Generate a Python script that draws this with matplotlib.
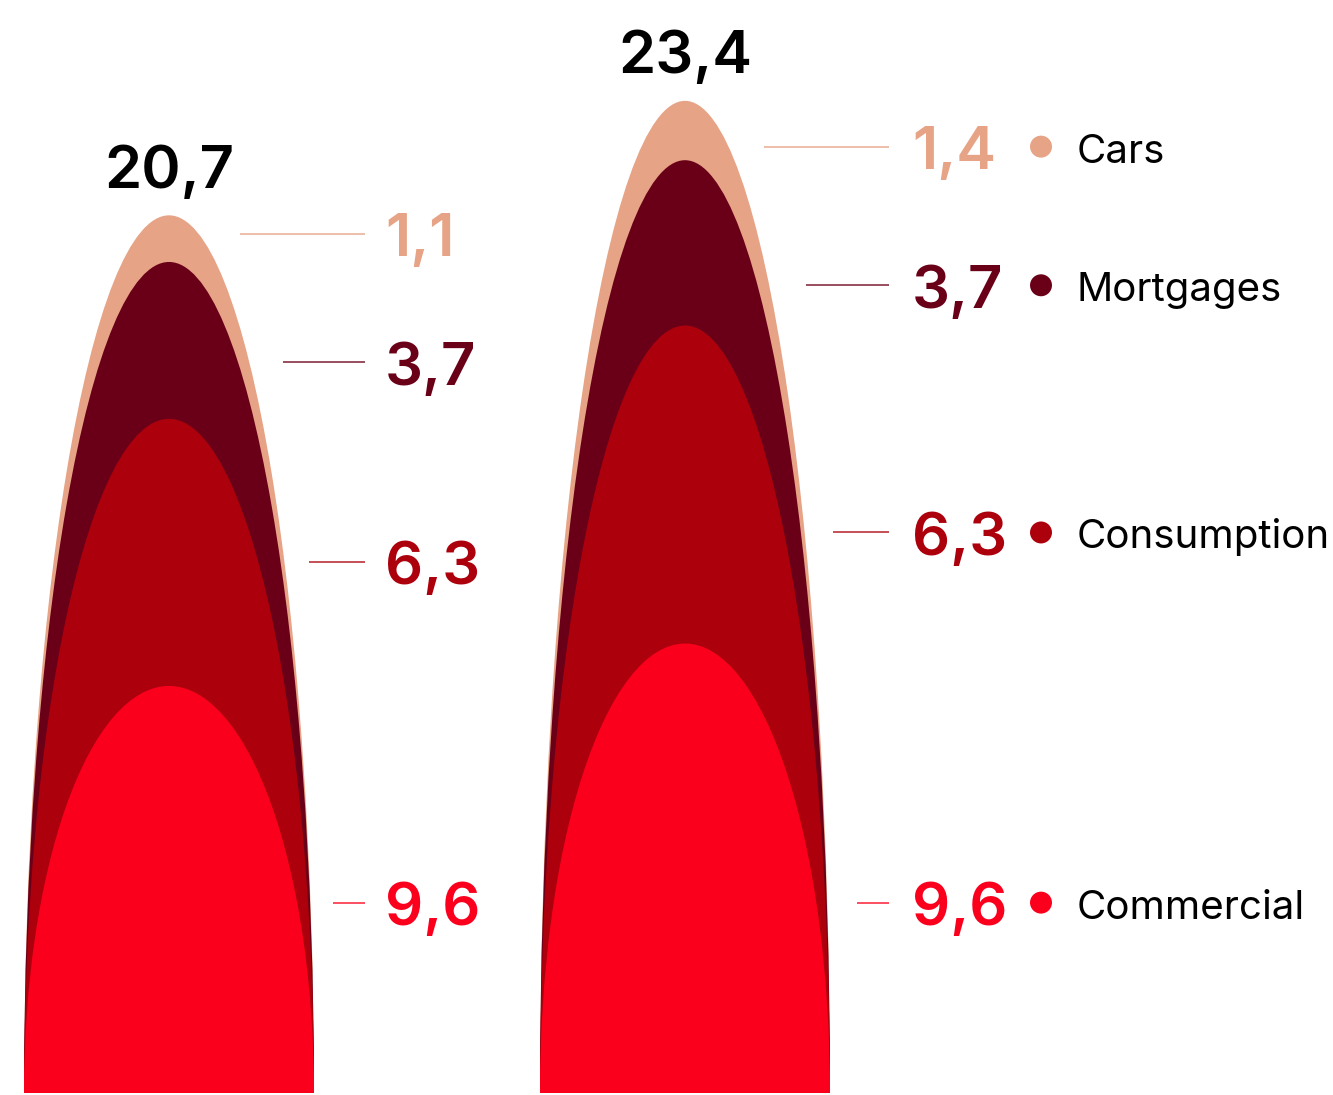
import matplotlib
matplotlib.use('Agg')
import matplotlib.pyplot as plt
from matplotlib.patches import Ellipse

plt.rcParams['font.family'] = ['Inter', 'DejaVu Sans']

# data
categories = ['Commercial', 'Consumption', 'Mortgages', 'Cars']
colors = ['#fb001d', '#ac000c', '#6a0018', '#e6a385']
totals = ['20,7', '23,4']
# layer values as drawn (bottom to top)
left_values = [9.6, 6.3, 3.7, 1.1]
right_values = [10.6, 7.5, 3.9, 1.4]
# printed labels
left_labels = ['9,6', '6,3', '3,7', '1,1']
right_labels = ['9,6', '6,3', '3,7', '1,4']

# layout (x in pixels, y in value units)
px_per_unit = 42.4
centers = [169, 685]
half_w = 145
left_label_y = [4.49, 12.53, 17.23, 20.26]
right_label_y = [4.49, 13.22, 19.05, 22.32]
left_line_x0 = [333, 309, 283, 240]
right_line_x0 = [857, 833, 806, 764]
line_x1 = [365, 889]
num_x = [385, 912]
dot_x = 1041
legend_x = 1077

fig = plt.figure(figsize=(13.33, 10.95), dpi=100)
ax = fig.add_axes([0, 2 / 1095, 1, 1093 / 1095])
ax.set_xlim(0, 1333)
ax.set_ylim(0, 1093 / px_per_unit)
ax.axis('off')

columns = [
    (left_values, left_labels, left_label_y, left_line_x0),
    (right_values, right_labels, right_label_y, right_line_x0),
]

for i, (vals, labs, ly, lx0) in enumerate(columns):
    cx = centers[i]
    cum = []
    s = 0
    for v in vals:
        s += v
        cum.append(s)
    # biggest dome first, smaller ones on top
    for j in range(len(vals) - 1, -1, -1):
        ax.add_patch(Ellipse((cx, 0), 2 * half_w, 2 * cum[j],
                             facecolor=colors[j], edgecolor='none'))
    ax.annotate(totals[i], xy=(cx, cum[-1]), xytext=(0, 20),
                textcoords='offset points', ha='center', va='baseline',
                fontsize=43, fontweight='semibold', color='black')
    for j in range(len(vals)):
        ax.plot([lx0[j], line_x1[i]], [ly[j], ly[j]], color=colors[j],
                lw=1.3, alpha=0.75, solid_capstyle='butt')
        ax.annotate(labs[j], xy=(num_x[i], ly[j]), xytext=(0, -16),
                    textcoords='offset points', ha='left', va='baseline',
                    fontsize=43, fontweight='semibold', color=colors[j])

for j, cat in enumerate(categories):
    ax.scatter([dot_x], [right_label_y[j]], s=250, color=colors[j],
               edgecolors='none', zorder=3)
    ax.annotate(cat, xy=(legend_x, right_label_y[j]), xytext=(0, -11.5),
                textcoords='offset points', ha='left', va='baseline',
                fontsize=29, color='black')

fig.savefig('out.png', dpi=100)
